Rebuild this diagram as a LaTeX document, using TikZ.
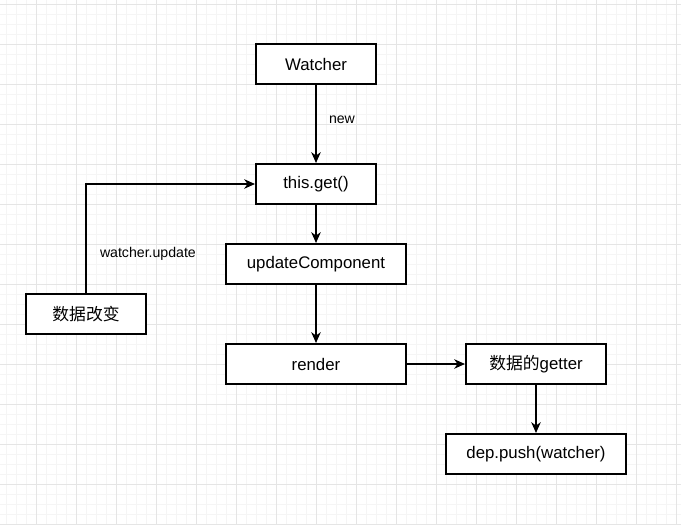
\documentclass[tikz,border=0pt]{standalone}
\usepackage{fontspec}
\setmainfont{Liberation Sans}
\newfontfamily\cjk{Noto Sans CJK SC}
\usetikzlibrary{arrows.meta}

\begin{document}
\begin{tikzpicture}[x=0.75pt, y=-0.75pt,
	box/.style={draw, line width=1.5pt, fill=white, minimum height=30pt, inner sep=0pt, font=\fontsize{12.6}{15}\selectfont},
	arr/.style={line width=1.5pt, -{Stealth[length=8pt, width=7pt, inset=2.4pt]}},
	lbl/.style={inner sep=0pt, font=\fontsize{10.6}{13}\selectfont}]
	\useasboundingbox (0,0) rectangle (681,525);
	\fill [white] (0,0) rectangle (681,525);
	
	\foreach \x in {6,16,...,676} \draw [black!4, line width=0.75pt] (\x,0) -- (\x,525);
	\foreach \y in {4,14,...,524} \draw [black!4, line width=0.75pt] (0,\y) -- (681,\y);
	\foreach \x in {36,76,...,676} \draw [black!10, line width=0.75pt] (\x,0) -- (\x,525);
	\foreach \y in {4,44,...,524} \draw [black!10, line width=0.75pt] (0,\y) -- (681,\y);
	
	\node [box, minimum width=90pt] (watcher) at (316,64) {Watcher};
	\node [box, minimum width=90pt] (get) at (316,184) {this.get()};
	\node [box, minimum width=135pt] (update) at (316,264) {updateComponent};
	\node [box, minimum width=135pt] (render) at (316,364) {render};
	\node [box, minimum width=105pt] (getter) at (536,364) {{\cjk 数据的}getter};
	\node [box, minimum width=135pt] (push) at (536,454) {dep.push(watcher)};
	\node [box, minimum width=90pt] (change) at (86,314) {\cjk 数据改变};
	
	\draw [arr] (watcher) -- (get) node [lbl, pos=0.45, right=9pt] {new};
	\draw [arr] (get) -- (update);
	\draw [arr] (update) -- (render);
	\draw [arr] (render) -- (getter);
	\draw [arr] (getter) -- (push);
	\draw [arr] (change.north) |- (get.west) node [lbl, pos=0.18, right=9.75pt] {watcher.update};
\end{tikzpicture}
\end{document}
